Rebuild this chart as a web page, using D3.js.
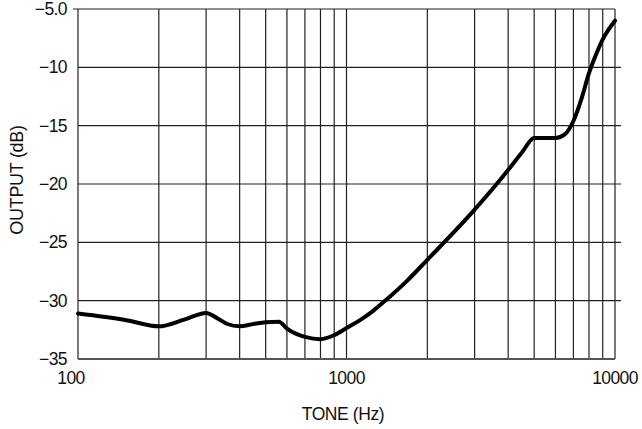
<!DOCTYPE html>
<html>
<head>
<meta charset="utf-8">
<script src="https://cdn.jsdelivr.net/npm/d3@7"></script>
<style>
  html, body { margin: 0; padding: 0; background: #fff; }
  svg { display: block; }
  text { font-family: "Liberation Sans", Arial, Helvetica, sans-serif; fill: #111; }
</style>
</head>
<body>
<svg id="chart" width="642" height="429"></svg>
<script>
// ---- data ----
const freqs = [100, 150, 200, 250, 300, 330, 360, 400, 450, 500, 560, 600, 650, 700, 800, 900, 1000, 1160, 1260, 1410, 1680, 2000, 3000, 4000, 4500, 5000, 5500, 6000, 6500, 7000, 7500, 8000, 8500, 9000, 9500, 10000];
const outputDb = [-31.1, -31.65, -32.2, -31.6, -31.05, -31.5, -32.0, -32.2, -32.0, -31.85, -31.8, -32.4, -32.85, -33.1, -33.3, -32.95, -32.35, -31.45, -30.85, -29.9, -28.3, -26.5, -22.2, -18.8, -17.3, -16.05, -16.05, -16.05, -15.75, -14.6, -12.7, -10.5, -8.9, -7.6, -6.7, -6.0];
const xTickLabels = [100, 1000, 10000];
const xGridValues = [100,200,300,400,500,600,700,800,900,1000,2000,3000,4000,5000,6000,7000,8000,9000,10000];
const yTickValues = [-5, -10, -15, -20, -25, -30, -35];
const yTickLabels = ["\u22125.0", "\u221210", "\u221215", "\u221220", "\u221225", "\u221230", "\u221235"];
const xTitle = "TONE (Hz)";
const yTitle = "OUTPUT (dB)";

// ---- layout ----
const L = 78, R = 615, T = 9, B = 359;
const svg = d3.select("#chart");
const x = d3.scaleLog().domain([100, 10000]).range([L, R]);
const y = d3.scaleLinear().domain([-35, -5]).range([B, T]);

// vertical grid
svg.append("g").selectAll("line").data(xGridValues).join("line")
  .attr("x1", d => x(d)).attr("x2", d => x(d))
  .attr("y1", T).attr("y2", B)
  .attr("stroke", "#222").attr("stroke-width", 1.2);

// horizontal grid
svg.append("g").selectAll("line").data(yTickValues).join("line")
  .attr("x1", d => d === -5 ? L - 5 : L)
  .attr("x2", d => (d === -5 || d === -35) ? R : R + 6)
  .attr("y1", d => y(d)).attr("y2", d => y(d))
  .attr("stroke", d => d === -35 ? "#555" : "#222")
  .attr("stroke-width", d => d === -35 ? 2 : 1.2);

// y tick labels
svg.append("g").selectAll("text").data(yTickValues).join("text")
  .attr("x", 67).attr("y", d => y(d))
  .attr("dy", "0.35em")
  .attr("text-anchor", "end")
  .attr("font-size", 17.5)
  .attr("letter-spacing", -0.6)
  .text((d, i) => yTickLabels[i]);

// x tick labels
svg.append("g").selectAll("text").data(xTickLabels).join("text")
  .attr("x", (d, i) => x(d) + (i === 0 ? -7 : 0)).attr("y", 384)
  .attr("text-anchor", "middle")
  .attr("font-size", 17.5)
  .attr("letter-spacing", -0.6)
  .text(d => d);

// axis titles
svg.append("text")
  .attr("x", 343).attr("y", 420)
  .attr("text-anchor", "middle")
  .attr("font-size", 17.5)
  .attr("letter-spacing", -0.4)
  .text(xTitle);

svg.append("text")
  .attr("transform", `translate(23, ${(T + B) / 2 - 4}) rotate(-90)`)
  .attr("text-anchor", "middle")
  .attr("font-size", 18)
  .attr("letter-spacing", -0.3)
  .text(yTitle);

// curve
const pts = freqs.map((f, i) => [f, outputDb[i]]);
const line = d3.line()
  .x(d => x(d[0])).y(d => y(d[1]))
  .curve(d3.curveMonotoneX);
svg.append("path")
  .attr("d", line(pts))
  .attr("fill", "none")
  .attr("stroke", "#000")
  .attr("stroke-width", 4)
  .attr("stroke-linejoin", "round")
  .attr("stroke-linecap", "round");
</script>
</body>
</html>
